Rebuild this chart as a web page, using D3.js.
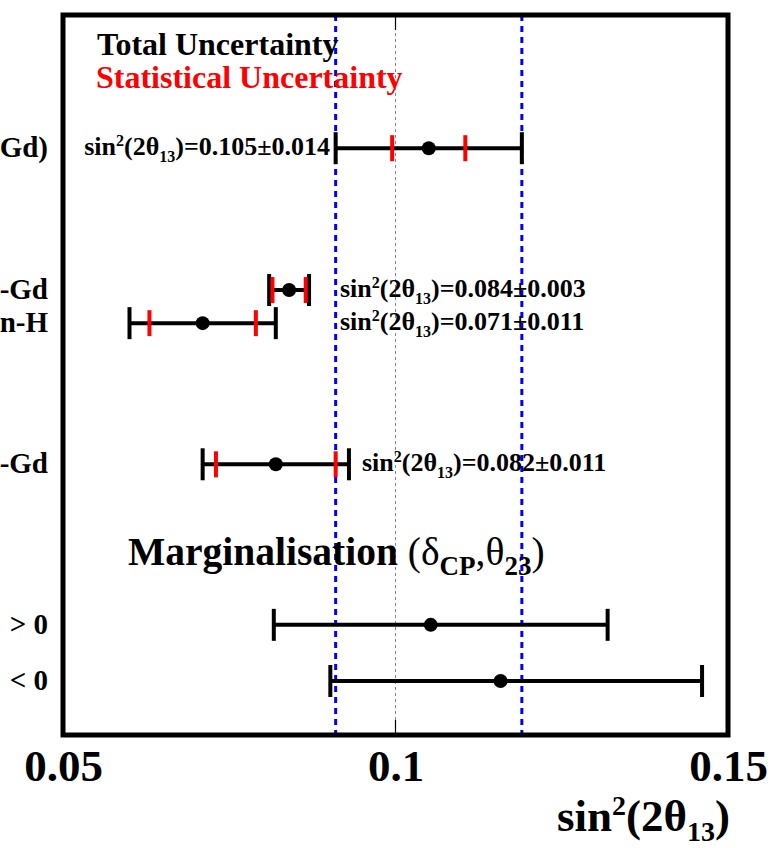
<!DOCTYPE html>
<meta charset="utf-8">
<style>
body { margin: 0; background: #fff; }
svg text { font-family: "Liberation Serif", "DejaVu Serif", serif !important; font-weight: bold; }
</style>
<body>
<script src="https://d3js.org/d3.v7.min.js"></script>
<script>
// rows, top to bottom
var labels   = ["Gd)", "-Gd", "n-H", "-Gd", "> 0", "< 0"];
var rowPos   = [8.15, 6.18, 5.72, 3.76, 1.53, 0.75];
var central  = [0.105, 0.084, 0.071, 0.082, 0.1053, 0.1158];
var totLo    = [0.014, 0.003, 0.011, 0.011, 0.0236, 0.0256];
var totHi    = [0.014, 0.003, 0.011, 0.011, 0.0266, 0.0303];
var statErr  = [0.0055, 0.0025, 0.008, 0.009, null, null];
var annot    = ["0.105\u00b10.014", "0.084\u00b10.003", "0.071\u00b10.011", "0.082\u00b10.011", null, null];
var band     = [0.091, 0.119];
var xTicks   = [0.05, 0.1, 0.15];

var serif = '"Liberation Serif", "DejaVu Serif", serif';
var width = 776, height = 848;
var svg = d3.select("body").append("svg")
    .attr("width", width)
    .attr("height", height)
    .attr("font-family", serif);

var x = d3.scaleLinear().domain([0.05, 0.15]).range([63, 728]);
var y = d3.scaleLinear().domain([0, 10]).range([735, 15]);

// reference lines
svg.append("line")
    .attr("x1", x(0.1)).attr("x2", x(0.1))
    .attr("y1", y(10)).attr("y2", y(0))
    .style("stroke", "#888").style("stroke-width", 1)
    .style("stroke-dasharray", "3,3");

svg.selectAll(".band")
    .data(band)
  .enter().append("line")
    .attr("class", "band")
    .attr("x1", d => x(d)).attr("x2", d => x(d))
    .attr("y1", y(10)).attr("y2", y(0))
    .style("stroke", "#0000ff").style("stroke-width", 3)
    .style("stroke-dasharray", "6,5");

// axis labels
var axB = d3.axisBottom(x).tickValues(xTicks).tickSize(0).tickFormat(d3.format("~g"));
var gB = svg.append("g").attr("transform", "translate(0," + y(0) + ")").call(axB);
gB.attr("font-family", serif);
gB.select(".domain").remove();
gB.selectAll("text")
    .attr("y", 46)
    .attr("dy", 0)
    .style("font-size", "45px")
    .style("font-family", serif)
    .style("font-weight", "bold")
    .style("fill", "#000");

// tick marks at 0.1, top and bottom
svg.selectAll(".tk")
    .data([[y(0), -15], [y(10), 15]])
  .enter().append("line")
    .attr("x1", x(0.1)).attr("x2", x(0.1))
    .attr("y1", d => d[0]).attr("y2", d => d[0] + d[1])
    .style("stroke", "#000").style("stroke-width", 1.2);

var rows = d3.range(labels.length);

// total error bars
var g = svg.append("g");
g.selectAll(".tot")
    .data(rows)
  .enter().append("line")
    .attr("x1", i => x(central[i] - totLo[i]))
    .attr("x2", i => x(central[i] + totHi[i]))
    .attr("y1", i => y(rowPos[i])).attr("y2", i => y(rowPos[i]))
    .style("stroke", "#000").style("stroke-width", 4);

rows.forEach(function(i) {
  [central[i] - totLo[i], central[i] + totHi[i]].forEach(function(v) {
    g.append("line")
        .attr("x1", x(v)).attr("x2", x(v))
        .attr("y1", y(rowPos[i]) - 16).attr("y2", y(rowPos[i]) + 16)
        .style("stroke", "#000").style("stroke-width", 4);
  });
  if (statErr[i] != null) {
    [central[i] - statErr[i], central[i] + statErr[i]].forEach(function(v) {
      g.append("line")
          .attr("x1", x(v)).attr("x2", x(v))
          .attr("y1", y(rowPos[i]) - 13).attr("y2", y(rowPos[i]) + 13)
          .style("stroke", "#ff0000").style("stroke-width", 4);
    });
  }
});

g.selectAll(".dot")
    .data(rows)
  .enter().append("circle")
    .attr("cx", i => x(central[i]))
    .attr("cy", i => y(rowPos[i]))
    .attr("r", 7)
    .style("fill", "#000");

// row labels at left edge
svg.selectAll(".lab")
    .data(rows)
  .enter().append("text")
    .attr("x", 48)
    .attr("y", i => y(rowPos[i]) + 9)
    .attr("text-anchor", "end")
    .style("font-size", "29px")
    .text(i => labels[i]);

// value annotations
function sinLabel(sel, size, value, subShift) {
  var sub = Math.round(size * 0.62);
  sel.style("font-size", size + "px");
  sel.append("tspan").text("sin");
  sel.append("tspan").attr("dy", -size * 0.36).style("font-size", sub + "px").text("2");
  sel.append("tspan").attr("dy", size * 0.36).text("(2\u03b8");
  sel.append("tspan").attr("dy", size * subShift).style("font-size", sub + "px").text("13");
  sel.append("tspan").attr("dy", -size * subShift).text(")" + (value ? "=" + value : ""));
}

var annPos = [[330, "end"], [340, "start"], [340, "start"], [362, "start"]];
rows.forEach(function(i) {
  if (!annot[i]) return;
  var t = svg.append("text")
      .attr("x", annPos[i][0])
      .attr("y", y(rowPos[i]) + 7)
      .attr("text-anchor", annPos[i][1]);
  sinLabel(t, 26, annot[i], 0.27);
});

// legend
svg.append("text").attr("x", 97).attr("y", 55)
    .style("font-size", "32px").style("fill", "#000")
    .text("Total Uncertainty");
svg.append("text").attr("x", 96).attr("y", 88)
    .style("font-size", "32px").style("fill", "#ff0000")
    .text("Statistical Uncertainty");

// marginalisation heading
var m = svg.append("text").attr("x", 128).attr("y", 565).style("font-size", "39.5px");
m.append("tspan").text("Marginalisation ");
m.append("tspan").style("font-weight", "normal").text("(\u03b4");
m.append("tspan").attr("dy", 10).style("font-size", "27px").text("CP");
m.append("tspan").attr("dy", -10).style("font-weight", "normal").text(",\u03b8");
m.append("tspan").attr("dy", 10).style("font-size", "27px").text("23");
m.append("tspan").attr("dy", -10).style("font-weight", "normal").text(")");

// frame
svg.append("rect")
    .attr("x", x(0.05)).attr("y", y(10))
    .attr("width", x(0.15) - x(0.05))
    .attr("height", y(0) - y(10))
    .style("fill", "none").style("stroke", "#000").style("stroke-width", 5);

// x axis title
var xt = svg.append("text").attr("x", 730).attr("y", 831).attr("text-anchor", "end");
sinLabel(xt, 45, null, 0.22);
</script>
